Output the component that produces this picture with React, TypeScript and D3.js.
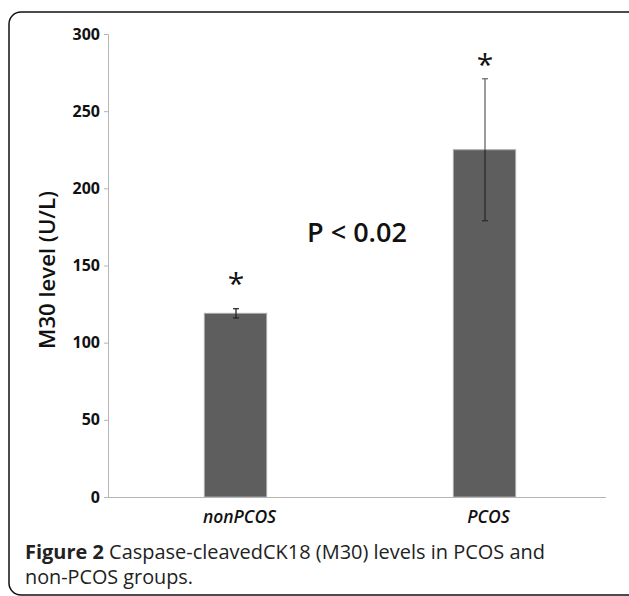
import React, { useEffect, useRef } from 'react';
import * as d3 from 'd3';

// chart values
const groups = ['nonPCOS', 'PCOS'];
const means = [119, 225];
const errors = [3, 46];
const starLevels = [142, 284];
const yTicks = [0, 50, 100, 150, 200, 250, 300];
const pLabel = 'P < 0.02';
const yTitle = 'M30 level (U/L)';
const captionBold = 'Figure 2';
const captionLines = [' Caspase-cleavedCK18 (M30) levels in PCOS and', 'non-PCOS groups.'];

const W = 629;
const H = 596;
const FONT = "'Open Sans', 'Noto Sans', sans-serif";

export default function App() {
  const svgRef = useRef<SVGSVGElement>(null);

  useEffect(() => {
    const svg = d3.select(svgRef.current);
    svg.selectAll('*').remove();

    // frame
    svg.append('rect')
      .attr('x', 9).attr('y', 12)
      .attr('width', 640).attr('height', 583)
      .attr('rx', 12)
      .attr('fill', 'white')
      .attr('stroke', '#111')
      .attr('stroke-width', 1.5);

    const x = d3.scaleBand<string>()
      .domain(groups)
      .range([110, 608]);

    const y = d3.scaleLinear()
      .domain([0, 300])
      .range([497, 34]);

    const barW = x.bandwidth() * 0.25;

    // axes
    const yAxis = svg.append('g')
      .attr('transform', 'translate(108,0)')
      .call(d3.axisLeft(y).tickValues(yTicks).tickSize(4).tickPadding(4));
    yAxis.select('.domain').attr('stroke', '#b5b5b5');
    yAxis.selectAll('.tick line').attr('stroke', '#b5b5b5');
    yAxis.selectAll('.tick text')
      .attr('font-family', FONT)
      .attr('font-size', 16)
      .attr('font-weight', 700)
      .attr('fill', '#111');

    // bars
    svg.append('g')
      .selectAll('rect')
      .data(groups)
      .join('rect')
      .attr('x', (d) => x(d)! + x.bandwidth() / 2 - barW / 2 + 1)
      .attr('y', (_, i) => y(means[i]))
      .attr('width', barW)
      .attr('height', (_, i) => y(0) - y(means[i]))
      .attr('fill', '#5e5e5e')
      .attr('stroke', '#a9a9a9')
      .attr('stroke-width', 1);

    const xAxis = svg.append('g')
      .attr('transform', `translate(0,${y(0)})`)
      .call(d3.axisBottom(x).tickSize(0).tickPadding(14));
    xAxis.select('.domain').attr('stroke', '#b5b5b5').attr('d', 'M108.5,0.5H606');
    xAxis.selectAll('.tick text')
      .attr('dx', 5)
      .attr('font-family', FONT)
      .attr('font-size', 17.5)
      .attr('font-style', 'italic')
      .attr('font-weight', 600)
      .attr('fill', '#111');

    // error bars: lighter above the bar, darker over it
    const eb = svg.append('g');
    groups.forEach((g, i) => {
      const cx = x(g)! + x.bandwidth() / 2 + 1.5;
      const top = y(means[i] + errors[i]);
      const mid = y(means[i]);
      const bot = y(means[i] - errors[i]);
      const upCol = i === 0 ? '#222' : '#666';
      const downCol = i === 0 ? '#222' : '#2a2a2a';
      eb.append('line')
        .attr('x1', cx).attr('x2', cx)
        .attr('y1', top).attr('y2', mid)
        .attr('stroke', upCol).attr('stroke-width', 1.3);
      eb.append('line')
        .attr('x1', cx).attr('x2', cx)
        .attr('y1', mid).attr('y2', bot)
        .attr('stroke', downCol).attr('stroke-width', 1.3);
      eb.append('line')
        .attr('x1', cx - 3).attr('x2', cx + 3)
        .attr('y1', top).attr('y2', top)
        .attr('stroke', upCol).attr('stroke-width', 1.2);
      eb.append('line')
        .attr('x1', cx - 3).attr('x2', cx + 3)
        .attr('y1', bot).attr('y2', bot)
        .attr('stroke', downCol).attr('stroke-width', 1.2);
      svg.append('text')
        .attr('x', cx)
        .attr('y', y(starLevels[i]) + 16)
        .attr('text-anchor', 'middle')
        .attr('font-family', FONT)
        .attr('font-size', 30)
        .attr('fill', '#111')
        .text('*');
    });

    // p value
    svg.append('text')
      .attr('x', 357).attr('y', 242)
      .attr('text-anchor', 'middle')
      .attr('font-family', FONT)
      .attr('font-size', 27)
      .attr('font-weight', 600)
      .attr('fill', '#111')
      .text(pLabel);

    // y title
    svg.append('text')
      .attr('transform', 'translate(55,270) rotate(-90)')
      .attr('text-anchor', 'middle')
      .attr('font-family', FONT)
      .attr('font-size', 21)
      .attr('font-weight', 600)
      .attr('fill', '#111')
      .attr('textLength', 158)
      .attr('lengthAdjust', 'spacingAndGlyphs')
      .text(yTitle);

    // caption
    const cap = svg.append('g')
      .attr('font-family', FONT)
      .attr('font-size', 20)
      .attr('fill', '#222');
    const l1 = cap.append('text').attr('x', 25).attr('y', 559)
      .attr('textLength', 520).attr('lengthAdjust', 'spacingAndGlyphs');
    l1.append('tspan').attr('font-weight', 700).text(captionBold);
    l1.append('tspan').text(captionLines[0]);
    cap.append('text').attr('x', 25).attr('y', 584)
      .attr('textLength', 168).attr('lengthAdjust', 'spacingAndGlyphs')
      .text(captionLines[1]);
  }, []);

  return (
    <svg
      ref={svgRef}
      width={W}
      height={H}
      style={{ position: 'absolute', left: 0, top: 0, background: 'white' }}
    />
  );
}
